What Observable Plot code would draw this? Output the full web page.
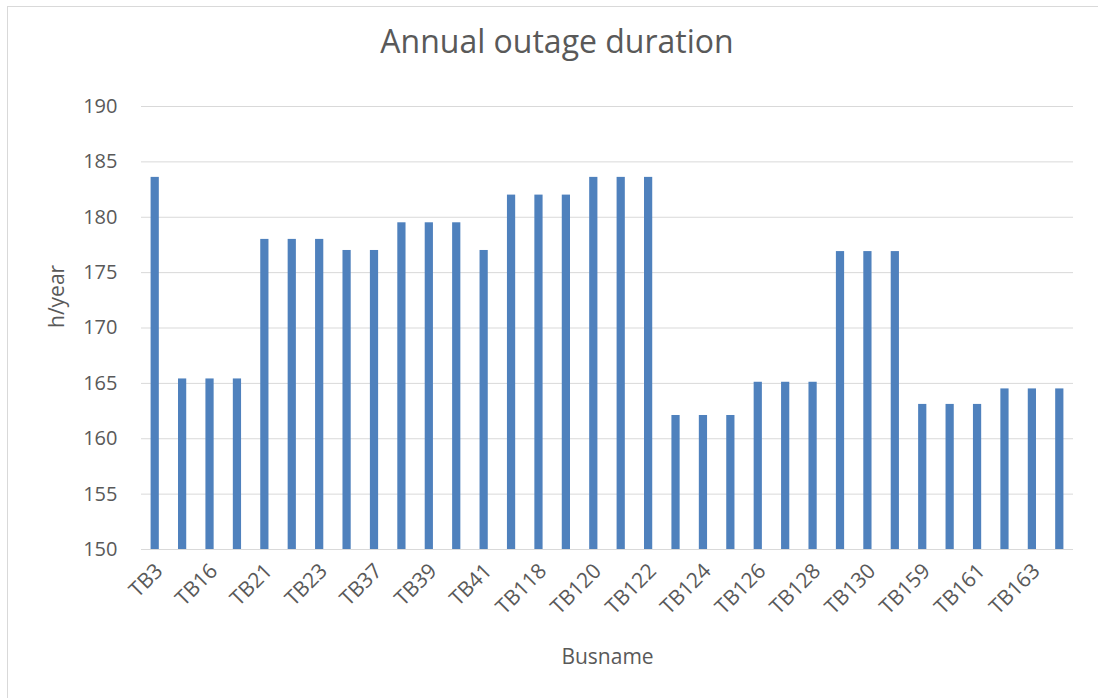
<!DOCTYPE html>
<html>
<head>
<meta charset="utf-8">
<script src="https://cdn.jsdelivr.net/npm/d3@7"></script>
<script src="https://cdn.jsdelivr.net/npm/@observablehq/plot@0.6"></script>
<style>
  html, body { margin: 0; padding: 0; background: #fff; }
  #wrap { position: relative; width: 1098px; height: 698px; overflow: hidden; font-family: "Open Sans", sans-serif; }
  #frame { position: absolute; left: 7px; top: 6px; width: 1200px; height: 800px; border: 1px solid #d9d9d9; box-sizing: border-box; pointer-events: none; }
  #title { position: absolute; left: 0; width: 1114px; top: 19px; text-align: center; font-size: 32px; color: #595959; white-space: nowrap; }
  #chart { position: absolute; left: 0; top: 0; }
</style>
</head>
<body>
<div id="wrap">
  <div id="chart"></div>
  <div id="title">Annual outage duration</div>
  <div id="frame"></div>
</div>
<script>
const busnames = ["TB3","TB15","TB16","TB17","TB21","TB22","TB23","TB36","TB37","TB38","TB39","TB40","TB41","TB117","TB118","TB119","TB120","TB121","TB122","TB123","TB124","TB125","TB126","TB127","TB128","TB129","TB130","TB158","TB159","TB160","TB161","TB162","TB163","TB164"];
const outage = [183.6,165.4,165.4,165.4,178.0,178.0,178.0,177.0,177.0,179.5,179.5,179.5,177.0,182.0,182.0,182.0,183.6,183.6,183.6,162.1,162.1,162.1,165.1,165.1,165.1,176.9,176.9,176.9,163.1,163.1,163.1,164.5,164.5,164.5];
const yTicks = [150,155,160,165,170,175,180,185,190];
const xTickLabels = busnames.filter((d, i) => i % 2 === 0);

const data = busnames.map((name, i) => ({name, value: outage[i]}));

const chart = Plot.plot({
  width: 1098,
  height: 698,
  marginLeft: 141,
  marginRight: 25,
  marginTop: 106,
  marginBottom: 149,
  style: {fontFamily: "'Open Sans', sans-serif", fontSize: "20px", color: "#595959", background: "transparent"},
  x: {domain: busnames, paddingInner: 0.7, paddingOuter: 0.35, round: false, label: null},
  y: {domain: [150, 190], label: null},
  marks: [
    Plot.gridY(yTicks, {stroke: "#d9d9d9", strokeOpacity: 1, strokeWidth: 1}),
    Plot.barY(data, {x: "name", y1: () => 150, y2: "value", fill: "#4f81bd"}),
    Plot.axisY(yTicks, {tickSize: 0, tickPadding: 24, fontSize: 20, fill: "#595959", label: null}),
    Plot.axisX(xTickLabels, {tickSize: 0, tickRotate: -45, tickPadding: 18, dx: 4, fontSize: 21, fill: "#595959", label: null}),
    Plot.text(["h/year"], {frameAnchor: "left", dx: -84, rotate: -90, fontSize: 21, fill: "#595959"}),
    Plot.text(["Busname"], {frameAnchor: "bottom", dy: 114, fontSize: 21, fill: "#595959"})
  ]
});
document.getElementById("chart").appendChild(chart);
</script>
</body>
</html>
